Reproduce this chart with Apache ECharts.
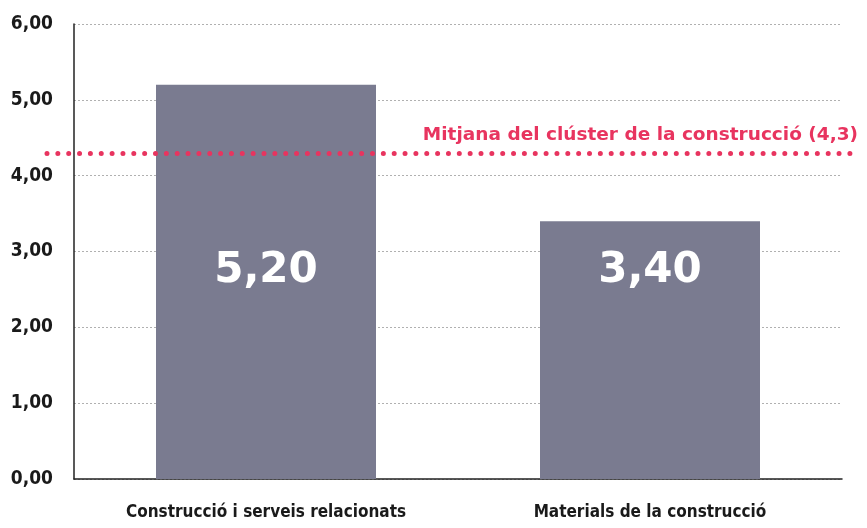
<!DOCTYPE html>
<html>
<head>
<meta charset="utf-8">
<script src="https://cdn.jsdelivr.net/npm/echarts@6/dist/echarts.min.js"></script>
<style>
  html, body { margin: 0; padding: 0; background: #fff; }
  #chart { width: 867px; height: 528px; }
</style>
</head>
<body>
<div id="chart"></div>
<script>
// chart data
var categories = ["Construcció i serveis relacionats", "Materials de la construcció"];
var values = [5.2, 3.4];
var clusterMean = 4.3;
var meanLabel = "Mitjana del clúster de la construcció (4,3)";

function fmt(v) {
  return v.toFixed(2).replace(".", ",");
}

var myChart = echarts.init(document.getElementById("chart"));
var condensed = "'Liberation Sans Narrow', 'DejaVu Sans Condensed', sans-serif";
var wide = "'DejaVu Sans', sans-serif";

var option = {
  animation: false,
  grid: [
    { left: 74, right: 25, top: 24, bottom: 49 },
    // wider grid only for the dotted mean line (runs past the axes)
    { left: 47, right: 7, top: 24, bottom: 49 }
  ],
  xAxis: [
    {
      type: "category",
      gridIndex: 0,
      data: categories,
      axisTick: { show: false },
      axisLine: { lineStyle: { color: "#222", width: 1.5 } },
      axisLabel: {
        interval: 0,
        margin: 25,
        color: "#1a1a1a",
        fontFamily: condensed,
        fontWeight: "bold",
        fontSize: 17
      }
    },
    { type: "value", gridIndex: 1, min: 0, max: 1, show: false }
  ],
  yAxis: [
    {
      type: "value",
      gridIndex: 0,
      min: 0,
      max: 6,
      interval: 1,
      axisLine: { show: true, lineStyle: { color: "#222", width: 1.5 } },
      axisTick: { show: false },
      splitLine: { lineStyle: { color: "#b0b0b0", type: [2, 2], width: 1 } },
      axisLabel: {
        margin: 21,
        color: "#1a1a1a",
        fontFamily: condensed,
        fontWeight: "bold",
        fontSize: 19,
        formatter: function (v) { return fmt(v); }
      }
    },
    { type: "value", gridIndex: 1, min: 0, max: 6, show: false }
  ],
  series: [
    {
      type: "bar",
      xAxisIndex: 0,
      yAxisIndex: 0,
      data: values,
      barWidth: 220,
      itemStyle: { color: "#7a7b90" },
      label: {
        show: true,
        position: "insideBottom",
        distance: 187,
        color: "#fff",
        fontFamily: wide,
        fontWeight: "bold",
        fontSize: 42,
        formatter: function (p) { return fmt(p.value); }
      }
    },
    {
      type: "line",
      xAxisIndex: 1,
      yAxisIndex: 1,
      data: [],
      markLine: {
        silent: true,
        symbol: "none",
        lineStyle: { color: "#e8345f", width: 5, type: [0, 10.85], cap: "round" },
        label: {
          position: "insideEndTop",
          distance: [2, 8],
          color: "#e8345f",
          fontFamily: wide,
          fontWeight: "bold",
          fontSize: 18.5,
          formatter: meanLabel
        },
        data: [{ yAxis: clusterMean }]
      }
    }
  ]
};
myChart.setOption(option);
</script>
</body>
</html>
